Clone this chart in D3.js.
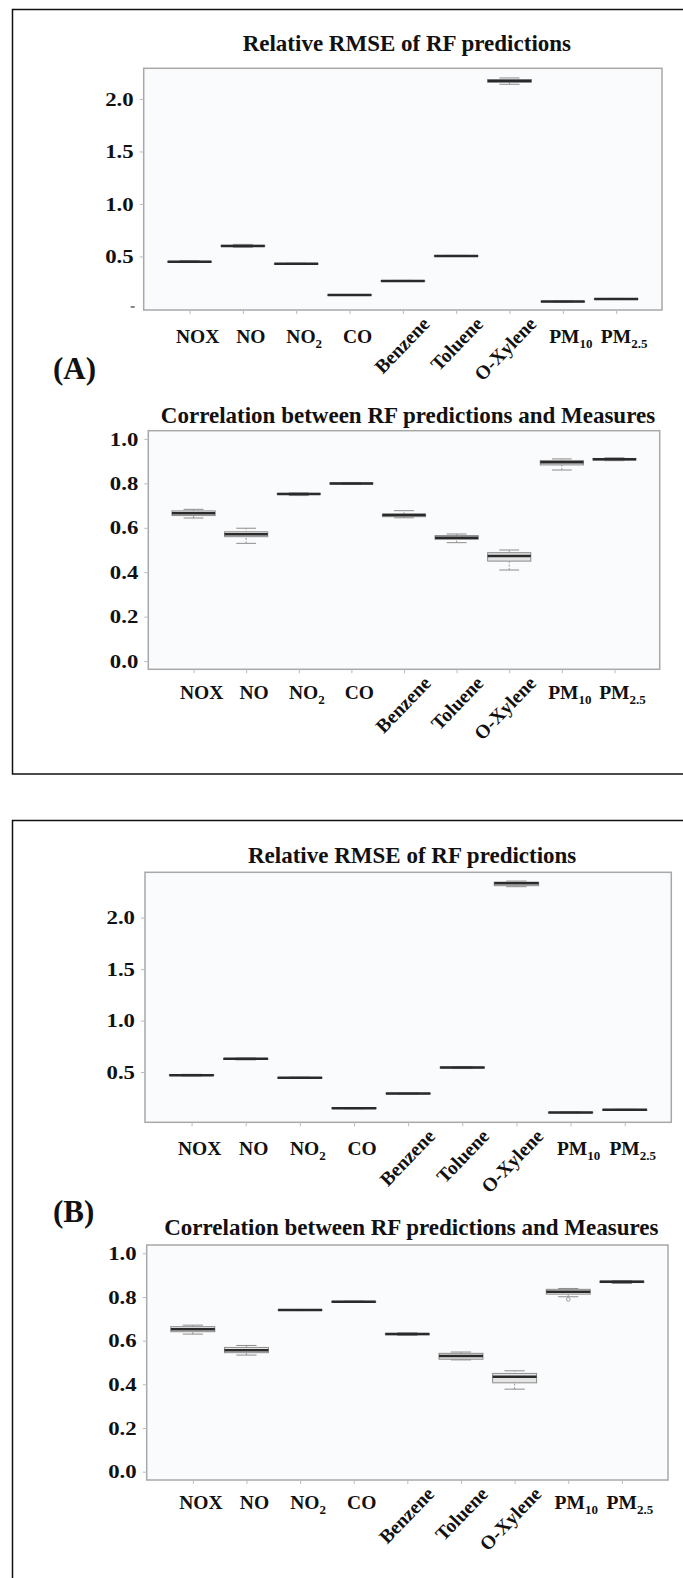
<!DOCTYPE html>
<html>
<head>
<meta charset="utf-8">
<script src="https://cdn.jsdelivr.net/npm/d3@7"></script>
<style>
body { margin: 0; background: #fff; }
svg text { font-family: "Liberation Serif", "Times New Roman", serif; font-weight: bold; fill: #111; }
</style>
</head>
<body>
<div class="container"></div>
<script>
const WIDTH = 683;
const HEIGHT = 1578;

const categories = ["NOX", "NO", "NO2", "CO", "Benzene", "Toluene", "O-Xylene", "PM10", "PM2.5"];
const labelMain = ["NOX", "NO", "NO", "CO", "Benzene", "Toluene", "O-Xylene", "PM", "PM"];
const labelSub = ["", "", "2", "", "", "", "", "10", "2.5"];
const rotatedLabels = ["Benzene", "Toluene", "O-Xylene"];

const titles = ["Relative RMSE of RF predictions", "Correlation between RF predictions and Measures"];
const panelLabels = ["(A)", "(B)"];

const rmseTicks = [0.5, 1.0, 1.5, 2.0];
const corrTicks = [0.0, 0.2, 0.4, 0.6, 0.8, 1.0];

// [low whisker, q1, median, q3, high whisker] per category
const rmseA = [
    [0.442, 0.447, 0.450, 0.453, 0.460],
    [0.588, 0.595, 0.600, 0.606, 0.615],
    [0.425, 0.428, 0.430, 0.432, 0.435],
    [0.129, 0.131, 0.133, 0.135, 0.137],
    [0.262, 0.265, 0.267, 0.269, 0.272],
    [0.500, 0.503, 0.505, 0.507, 0.510],
    [2.140, 2.160, 2.170, 2.185, 2.200],
    [0.064, 0.068, 0.070, 0.072, 0.076],
    [0.090, 0.093, 0.095, 0.097, 0.100]
];
const corrA = [
    [0.644, 0.655, 0.665, 0.676, 0.683],
    [0.530, 0.560, 0.571, 0.582, 0.598],
    [0.745, 0.750, 0.752, 0.755, 0.757],
    [0.795, 0.797, 0.799, 0.802, 0.804],
    [0.645, 0.650, 0.658, 0.662, 0.677],
    [0.533, 0.548, 0.555, 0.565, 0.572],
    [0.410, 0.450, 0.473, 0.488, 0.500],
    [0.860, 0.883, 0.895, 0.903, 0.910],
    [0.902, 0.905, 0.908, 0.912, 0.915]
];
const rmseB = [
    [0.462, 0.466, 0.470, 0.474, 0.478],
    [0.618, 0.622, 0.628, 0.632, 0.636],
    [0.438, 0.441, 0.444, 0.447, 0.450],
    [0.144, 0.147, 0.149, 0.151, 0.154],
    [0.286, 0.289, 0.291, 0.293, 0.296],
    [0.534, 0.540, 0.544, 0.548, 0.554],
    [2.300, 2.310, 2.334, 2.345, 2.355],
    [0.102, 0.105, 0.107, 0.109, 0.112],
    [0.128, 0.131, 0.133, 0.135, 0.138]
];
const corrB = [
    [0.630, 0.641, 0.652, 0.664, 0.671],
    [0.534, 0.545, 0.556, 0.569, 0.578],
    [0.738, 0.739, 0.740, 0.741, 0.742],
    [0.775, 0.776, 0.778, 0.780, 0.781],
    [0.624, 0.627, 0.630, 0.633, 0.636],
    [0.512, 0.515, 0.530, 0.542, 0.548],
    [0.378, 0.407, 0.435, 0.450, 0.462],
    [0.801, 0.813, 0.824, 0.835, 0.839],
    [0.862, 0.866, 0.870, 0.873, 0.875]
];
const corrBOutliers = [[], [], [], [], [], [], [], [0.789], []];

// layout of the four plots
const charts = [
    {title: titles[0], data: rmseA, ticks: rmseTicks, domain: [-0.01, 2.292],
     x0: 143.7, x1: 662, y0: 68.3, y1: 310, titleY: 50.7, labelY: 343, zeroMark: true},
    {title: titles[1], data: corrA, ticks: corrTicks, domain: [-0.037, 1.037],
     x0: 148.3, x1: 659.7, y0: 430.7, y1: 669.3, titleY: 422.7, labelY: 699},
    {title: titles[0], data: rmseB, ticks: rmseTicks, domain: [0.012, 2.44],
     x0: 145, x1: 671.3, y0: 872.3, y1: 1122.3, titleY: 863.3, labelY: 1155},
    {title: titles[1], data: corrB, ticks: corrTicks, domain: [-0.038, 1.038], outliers: corrBOutliers,
     x0: 146.7, x1: 668, y0: 1245, y1: 1480, titleY: 1235, labelY: 1509}
];

var translate = function(x, y){
    return "translate(" + x + "," + y + ")";
};

var drawChart = function(svg, c){
    var x = d3.scalePoint().domain(categories).range([c.x0, c.x1]).padding(0.86);
    var y = d3.scaleLinear().domain(c.domain).range([c.y1, c.y0]);
    var g = svg.append("g");

    g.append("rect")
        .attr("x", c.x0).attr("y", c.y0)
        .attr("width", c.x1 - c.x0).attr("height", c.y1 - c.y0)
        .attr("fill", "#fafbfd")
        .attr("stroke", "#a8a8a8")
        .attr("stroke-width", 1.5);

    g.append("text")
        .attr("x", (c.x0 + c.x1) / 2 + 4)
        .attr("y", c.titleY)
        .attr("text-anchor", "middle")
        .attr("font-size", 23)
        .text(c.title);

    var yAxis = g.append("g")
        .attr("transform", translate(c.x0, 0))
        .call(d3.axisLeft(y).tickValues(c.ticks).tickSize(4).tickFormat(d3.format(".1f")));
    yAxis.select(".domain").remove();
    yAxis.selectAll("line").attr("stroke", "#bbb");
    yAxis.selectAll("text")
        .attr("font-size", 19)
        .attr("x", -10 / 1.2)
        .attr("transform", "scale(1.2,1)");

    if (c.zeroMark) {
        g.append("line")
            .attr("x1", c.x0 - 13).attr("x2", c.x0 - 9)
            .attr("y1", y(0) - 2).attr("y2", y(0) - 2)
            .attr("stroke", "#333").attr("stroke-width", 1.2);
    }

    var xAxis = g.append("g")
        .attr("transform", translate(0, c.y1))
        .call(d3.axisBottom(x).tickSize(4).tickFormat(""));
    xAxis.select(".domain").remove();
    xAxis.selectAll("line").attr("stroke", "#bbb");

    // category labels
    categories.forEach(function(cat, i){
        if (rotatedLabels.indexOf(cat) >= 0) {
            g.append("text")
                .attr("transform", translate(x(cat) + 28, c.y1 + 15) + " rotate(-46)")
                .attr("text-anchor", "end")
                .attr("font-size", 19.5)
                .text(labelMain[i]);
        } else {
            var t = g.append("text")
                .attr("x", x(cat) + 8)
                .attr("y", c.labelY)
                .attr("text-anchor", "middle")
                .attr("font-size", 19.5);
            t.append("tspan").text(labelMain[i]);
            if (labelSub[i]) {
                t.append("tspan").attr("font-size", 13).attr("dy", 5).text(labelSub[i]);
            }
        }
    });

    // boxes
    var bw = x.step() * 0.82;
    var boxes = g.append("g").selectAll("g")
        .data(c.data)
        .enter().append("g")
        .attr("transform", function(d, i){ return translate(x(categories[i]), 0); });

    boxes.append("line")
        .attr("x1", 0).attr("x2", 0)
        .attr("y1", function(d){ return y(d[0]); })
        .attr("y2", function(d){ return y(d[4]); })
        .attr("stroke", "#999")
        .attr("stroke-dasharray", "2,1.5");

    [0, 4].forEach(function(k){
        boxes.append("line")
            .attr("x1", -bw * 0.23).attr("x2", bw * 0.23)
            .attr("y1", function(d){ return y(d[k]); })
            .attr("y2", function(d){ return y(d[k]); })
            .attr("stroke", "#8c8c8c");
    });

    boxes.append("rect")
        .attr("x", -bw / 2)
        .attr("width", bw)
        .attr("y", function(d){ return y(d[3]); })
        .attr("height", function(d){ return Math.max(0.5, y(d[1]) - y(d[3])); })
        .attr("fill", "#e4e4e4")
        .attr("stroke", "#8c8c8c")
        .attr("stroke-width", 1);

    boxes.append("line")
        .attr("x1", -bw / 2).attr("x2", bw / 2)
        .attr("y1", function(d){ return y(d[2]); })
        .attr("y2", function(d){ return y(d[2]); })
        .attr("stroke", "#2a2a2a")
        .attr("stroke-width", 2.5);

    if (c.outliers) {
        c.outliers.forEach(function(list, i){
            g.selectAll(null).data(list).enter().append("circle")
                .attr("cx", x(categories[i]))
                .attr("cy", function(d){ return y(d); })
                .attr("r", 1.8)
                .attr("fill", "none")
                .attr("stroke", "#999");
        });
    }
};

var loadChart = function(){
    var svg = d3.select(".container").append("svg")
        .attr("width", WIDTH)
        .attr("height", HEIGHT);

    // panel frames
    svg.append("rect")
        .attr("x", 12.5).attr("y", 9.5)
        .attr("width", 700).attr("height", 764.5)
        .attr("fill", "none").attr("stroke", "#111").attr("stroke-width", 1.5);
    svg.append("rect")
        .attr("x", 12.5).attr("y", 820.5)
        .attr("width", 700).attr("height", 800)
        .attr("fill", "none").attr("stroke", "#111").attr("stroke-width", 1.5);

    charts.forEach(function(c){ drawChart(svg, c); });

    svg.selectAll(null).data(panelLabels).enter().append("text")
        .attr("x", 53)
        .attr("y", function(d, i){ return i === 0 ? 379 : 1222; })
        .attr("font-size", 31)
        .text(function(d){ return d; });
};

window.onload = loadChart;
</script>
</body>
</html>
